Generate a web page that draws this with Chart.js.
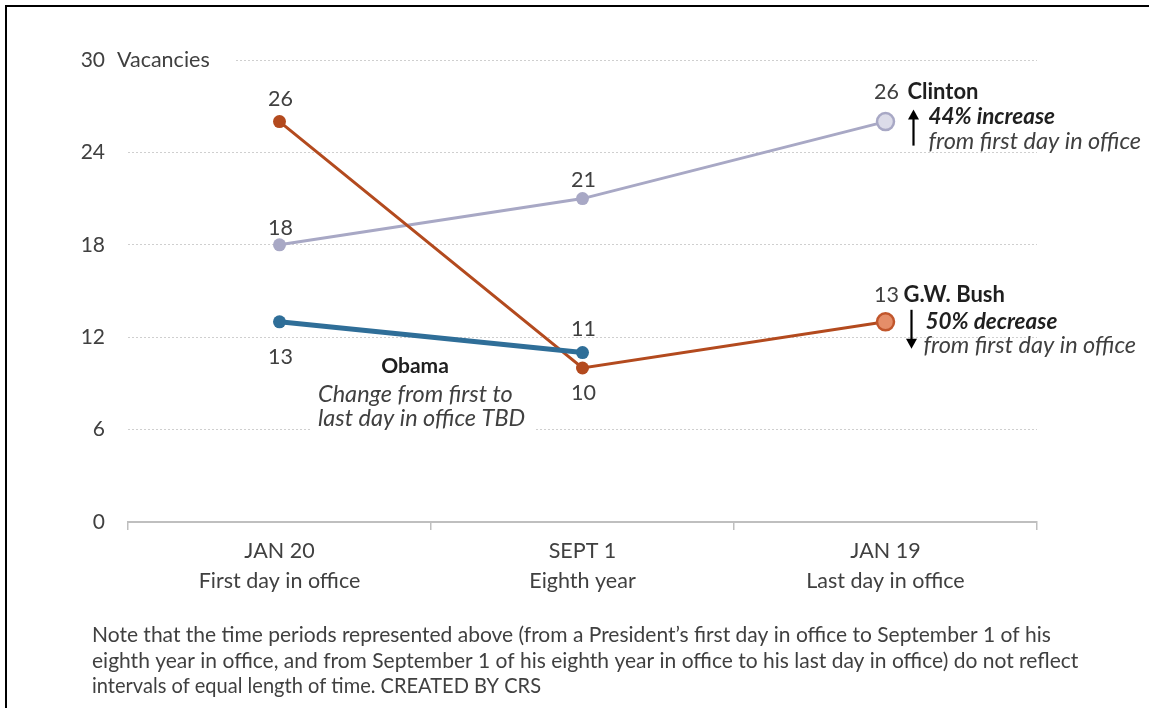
<!DOCTYPE html>
<html><head><meta charset="utf-8">
<script src="https://cdn.jsdelivr.net/npm/chart.js@4.4.0/dist/chart.umd.min.js"></script>
<style>
html,body{margin:0;padding:0;background:#fff;}
#wrap{position:relative;width:1149px;height:708px;overflow:hidden;}
#frame{position:absolute;left:5px;top:5px;width:1150px;height:710px;border-top:2px solid #000;border-left:2px solid #000;box-sizing:border-box;pointer-events:none;}
canvas{position:absolute;left:0;top:0;}
</style></head><body>
<div id="wrap"><canvas id="c" width="1149" height="708"></canvas><div id="frame"></div></div>
<script>
// ---- data ----
const categories = [["JAN 20","First day in office"],["SEPT 1","Eighth year"],["JAN 19","Last day in office"]];
const clintonValues = [18, 21, 26];
const bushValues = [26, 10, 13];
const obamaValues = [13, 11, null];
const yTickValues = [0, 6, 12, 18, 24, 30];
const yAxisTitle = "Vacancies";
const noteLines = [
  "Note that the time periods represented above (from a President\u2019s first day in office to September 1 of his",
  "eighth year in office, and from September 1 of his eighth year in office to his last day in office) do not reflect",
  "intervals of equal length of time. CREATED BY CRS"
];

// ---- label placement (styling) ----
const labelOffsets = { "Obama": [35, -24, null], "G.W. Bush": [-23, 25, -27], "Clinton": [-17, -19, -30] };
const FONT = "Lato, 'Open Sans', sans-serif";

const dataLabels = {
  id: 'dataLabels',
  afterDatasetsDraw(chart) {
    const ctx = chart.ctx;
    ctx.save();
    ctx.font = "21.5px " + FONT;
    ctx.fillStyle = "#404040";
    ctx.textAlign = "center";
    ctx.textBaseline = "middle";
    chart.data.datasets.forEach((ds, i) => {
      const meta = chart.getDatasetMeta(i);
      meta.data.forEach((pt, j) => {
        const v = ds.data[j];
        if (v === null || v === undefined) return;
        const off = labelOffsets[ds.label][j];
        ctx.fillText(String(v), pt.x + 1, pt.y + off);
      });
    });
    ctx.restore();
  }
};

function arrow(ctx, x, y1, y2) {
  const dir = y2 > y1 ? 1 : -1;
  ctx.save();
  ctx.strokeStyle = "#000"; ctx.fillStyle = "#000"; ctx.lineWidth = 2.2;
  ctx.beginPath(); ctx.moveTo(x, y1); ctx.lineTo(x, y2 - dir * 8); ctx.stroke();
  ctx.beginPath(); ctx.moveTo(x - 5.5, y2 - dir * 10); ctx.lineTo(x + 5.5, y2 - dir * 10); ctx.lineTo(x, y2); ctx.closePath(); ctx.fill();
  ctx.restore();
}

const annotations = {
  id: 'annotations',
  afterDraw(chart) {
    const ctx = chart.ctx;
    const xs = chart.scales.x, ys = chart.scales.y;
    const xEnd = xs.getPixelForValue(2);
    ctx.save();
    ctx.textBaseline = "middle";
    ctx.textAlign = "left";
    // y axis title next to top tick
    const y30 = ys.getPixelForValue(30);
    ctx.fillStyle = "#fff";
    ctx.fillRect(110, y30 - 12, 126, 24);
    ctx.fillStyle = "#404040";
    ctx.font = "21.5px " + FONT;
    ctx.fillText(yAxisTitle, 117, y30, 96);

    const BOLD = "bold 22px " + FONT;
    const BOLDIT = "italic bold 22.5px " + FONT;
    const ITAL = "italic 23.5px " + FONT;

    // Clinton
    const yc = ys.getPixelForValue(clintonValues[2]);
    ctx.fillStyle = "#1f1f1f";
    ctx.font = BOLD;
    ctx.fillText("Clinton", xEnd + 22, yc - 30, 72);
    arrow(ctx, xEnd + 28, yc + 24, yc - 12);
    ctx.font = BOLDIT;
    ctx.fillText("44% increase", xEnd + 43, yc - 5, 131);
    ctx.fillStyle = "#404040";
    ctx.font = ITAL;
    ctx.fillText("from first day in office", xEnd + 43, yc + 20, 214);

    // Bush
    const yb = ys.getPixelForValue(bushValues[2]);
    ctx.fillStyle = "#1f1f1f";
    ctx.font = BOLD;
    ctx.fillText("G.W. Bush", xEnd + 18, yb - 27, 104);
    arrow(ctx, xEnd + 26, yb - 12, yb + 27);
    ctx.font = BOLDIT;
    ctx.fillText("50% decrease", xEnd + 40, yb, 135);
    ctx.fillStyle = "#404040";
    ctx.font = ITAL;
    ctx.fillText("from first day in office", xEnd + 38, yb + 24, 215);

    // Obama
    const yo = ys.getPixelForValue(6);
    ctx.fillStyle = "#fff";
    ctx.fillRect(312, yo - 48, 222, 52);
    ctx.fillStyle = "#1f1f1f";
    ctx.font = "bold 21px " + FONT;
    ctx.textAlign = "center";
    ctx.fillText("Obama", 415, yo - 63, 70);
    ctx.textAlign = "left";
    ctx.fillStyle = "#404040";
    ctx.font = ITAL;
    ctx.fillText("Change from first to", 318, yo - 35, 196);
    ctx.fillText("last day in office TBD", 318, yo - 11, 212);

    // note
    ctx.fillStyle = "#404040";
    ctx.font = "21px " + FONT;
    ctx.fillText(noteLines[0], 92, 635, 966);
    ctx.fillText(noteLines[1], 92, 661, 988);
    ctx.fillText(noteLines[2], 92, 686, 449);
    ctx.restore();
  }
};

new Chart(document.getElementById('c'), {
  type: 'line',
  data: {
    labels: categories,
    datasets: [
      { label: "Obama", data: obamaValues, borderColor: "#2f6e98", backgroundColor: "#2f6e98",
        borderWidth: 5, pointRadius: 6.5, pointBorderWidth: 0, pointBackgroundColor: "#2f6e98" },
      { label: "G.W. Bush", data: bushValues, borderColor: "#b34a1e", backgroundColor: "#b34a1e",
        borderWidth: 3, pointRadius: [6.5, 6.5, 8.5], pointBorderWidth: [0, 0, 2.5],
        pointBackgroundColor: ["#b34a1e", "#b34a1e", "#e58e69"], pointBorderColor: "#c1562c" },
      { label: "Clinton", data: clintonValues, borderColor: "#a8a8c5", backgroundColor: "#a8a8c5",
        borderWidth: 3, pointRadius: [6.5, 6.5, 8.5], pointBorderWidth: [0, 0, 2.5],
        pointBackgroundColor: ["#a8a8c5", "#a8a8c5", "#dcdce9"], pointBorderColor: "#a8a8c5" }
    ]
  },
  options: {
    responsive: false, animation: false, events: [],
    layout: { padding: { left: 0, right: 112, top: 60, bottom: 0 } },
    plugins: { legend: { display: false }, tooltip: { enabled: false } },
    scales: {
      x: {
        offset: true,
        grid: { offset: true, drawOnChartArea: false, drawTicks: true, tickLength: 8, color: "#bfbfbf", lineWidth: 1.5 },
        border: { display: true, color: "#bfbfbf", width: 2 },
        ticks: { font: { family: FONT, size: 21.5, lineHeight: 1.4 }, color: "#404040", padding: 6, maxRotation: 0 },
        afterFit(s) { s.height = 186; }
      },
      y: {
        min: 0, max: 30,
        afterBuildTicks(s) { s.ticks = yTickValues.map(v => ({ value: v })); },
        grid: { color: "#cfcfcf", lineWidth: 1, drawTicks: false },
        border: { display: false, dash: [2, 2] },
        ticks: { font: { family: FONT, size: 21 }, color: "#404040", padding: 23 },
        afterFit(s) { s.width = 128; }
      }
    }
  },
  plugins: [dataLabels, annotations]
});
</script>
</body></html>
